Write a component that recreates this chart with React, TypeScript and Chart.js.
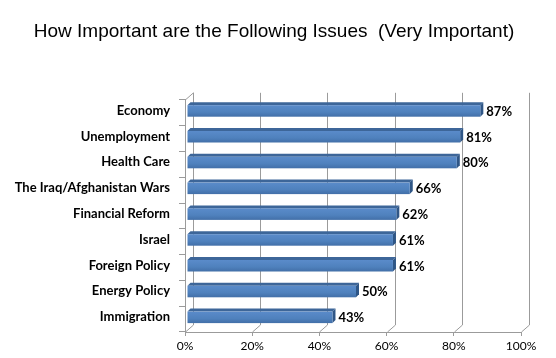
import React, { useEffect, useRef } from 'react';
import { Chart, registerables } from 'chart.js';

Chart.register(...registerables);

const categories = [
  'Economy',
  'Unemployment',
  'Health Care',
  'The Iraq/Afghanistan Wars',
  'Financial Reform',
  'Israel',
  'Foreign Policy',
  'Energy Policy',
  'Immigration',
];
const values = [87, 81, 80, 66, 62, 61, 61, 50, 43];
const xTickValues = [0, 20, 40, 60, 80, 100];
const chartTitle = 'How Important are the Following Issues  (Very Important)';

const DX = 8;
const DY = 7;
const GRID = '#9b9b9b';

const threeD = {
  id: 'threeD',
  beforeDatasetsDraw(chart: any) {
    const { ctx, chartArea: a, scales } = chart;
    const x = scales.x;
    ctx.save();
    ctx.strokeStyle = GRID;
    ctx.lineWidth = 1;
    ctx.beginPath();
    for (const v of xTickValues) {
      const px = Math.round(x.getPixelForValue(v)) + 0.5;
      ctx.moveTo(px, a.bottom);
      ctx.lineTo(px + DX, a.bottom - DY);
      ctx.lineTo(px + DX, a.top - DY);
    }
    const lx = Math.round(a.left) + 0.5;
    ctx.moveTo(lx, a.top);
    ctx.lineTo(lx + DX, a.top - DY);
    ctx.stroke();
    ctx.restore();
  },
  afterDatasetsDraw(chart: any) {
    const { ctx } = chart;
    const meta = chart.getDatasetMeta(0);
    ctx.save();
    meta.data.forEach((bar: any, i: number) => {
      const { x: xe, y: ye, base } = bar.getProps(['x', 'y', 'base'], true);
      const d = 3;
      const x0 = base + 2;
      const x1 = xe + 3;
      const top = ye - 7.5;
      const bot = ye + 4;
      // top face
      ctx.fillStyle = '#3d6699';
      ctx.beginPath();
      ctx.moveTo(x0, top);
      ctx.lineTo(x0 + d, top - d);
      ctx.lineTo(x1 + d, top - d);
      ctx.lineTo(x1, top);
      ctx.closePath();
      ctx.fill();
      // right face
      ctx.fillStyle = '#2f5686';
      ctx.beginPath();
      ctx.moveTo(x1, top);
      ctx.lineTo(x1 + d, top - d);
      ctx.lineTo(x1 + d, bot - d);
      ctx.lineTo(x1, bot);
      ctx.closePath();
      ctx.fill();
      // front face
      const g = ctx.createLinearGradient(0, top, 0, bot);
      g.addColorStop(0, '#5a8bca');
      g.addColorStop(0.6, '#4f81bd');
      g.addColorStop(1, '#426fa8');
      ctx.fillStyle = g;
      ctx.fillRect(x0, top, x1 - x0, bot - top);
      // label
      ctx.fillStyle = '#000';
      ctx.font = 'bold 13px Lato';
      ctx.textAlign = 'left';
      ctx.textBaseline = 'middle';
      ctx.fillText(values[i] + '%', x1 + d + 3, ye - 1);
    });
    ctx.restore();
  },
};

export default function App() {
  const ref = useRef<HTMLCanvasElement>(null);
  useEffect(() => {
    document.body.style.margin = '0';
    const chart = new Chart(ref.current as HTMLCanvasElement, {
      type: 'bar',
      data: {
        labels: categories,
        datasets: [
          {
            data: values,
            backgroundColor: 'rgba(0,0,0,0)',
            borderWidth: 0,
            barPercentage: 0.5,
            categoryPercentage: 1,
          },
        ],
      },
      options: {
        indexAxis: 'y',
        responsive: false,
        animation: false,
        layout: { padding: { left: 0, right: 8, top: 0, bottom: 0 } },
        plugins: {
          legend: { display: false },
          tooltip: { enabled: false },
          title: {
            display: true,
            text: chartTitle,
            color: '#000',
            font: { family: 'Liberation Sans', size: 19, weight: 'normal' },
            padding: { top: 20, bottom: 57 },
          },
        },
        scales: {
          x: {
            type: 'linear',
            min: 0,
            max: 100,
            ticks: {
              stepSize: 20,
              callback: (v: any) => v + '%',
              color: '#000',
              font: { family: 'Lato', size: 12 },
              padding: 3,
              maxRotation: 0,
            },
            grid: { drawOnChartArea: false, tickLength: 4, color: GRID },
            border: { display: true, color: GRID },
            afterFit: (s: any) => {
              s.height = 26;
              s.paddingLeft = 0;
              s.paddingRight = 35;
            },
          },
          y: {
            type: 'category',
            ticks: {
              color: '#000',
              font: { family: 'Lato', size: 13, weight: 'bold' },
              padding: 9,
              labelOffset: -2,
            },
            grid: { drawOnChartArea: false, offset: true, tickLength: 6, color: GRID },
            border: { display: true, color: GRID },
            afterFit: (s: any) => {
              s.width = 185;
              s.paddingTop = 0;
              s.paddingBottom = 0;
            },
          },
        },
      },
      plugins: [threeD],
    });
    return () => chart.destroy();
  }, []);
  return (
    <div style={{ position: 'absolute', left: 0, top: 0, width: 556, height: 358, background: '#fff' }}>
      <canvas ref={ref} width={556} height={358} style={{ display: 'block' }} />
    </div>
  );
}
